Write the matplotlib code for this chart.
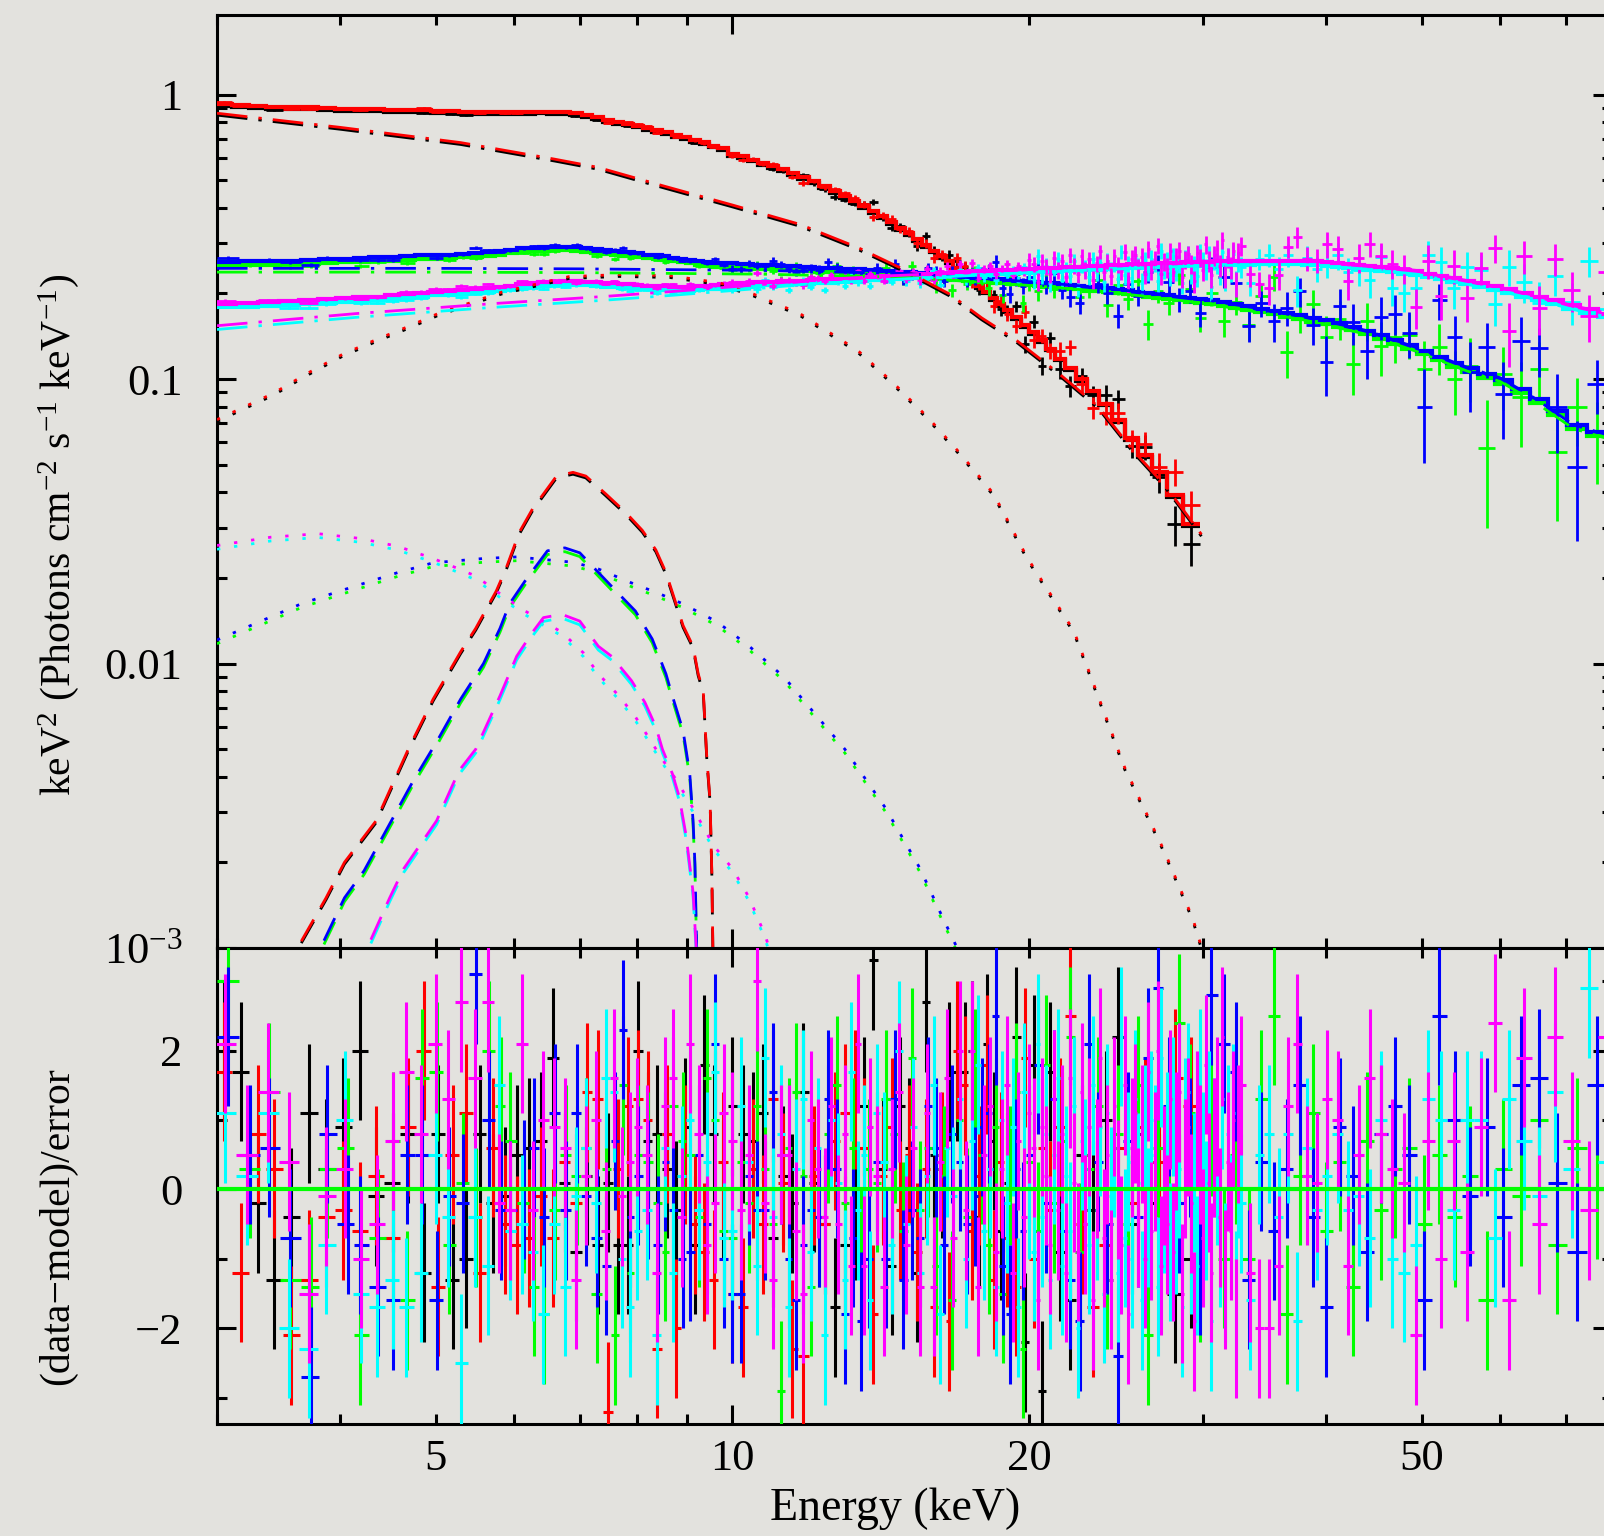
import numpy as np
import matplotlib
matplotlib.use("Agg")
import matplotlib.pyplot as plt
from matplotlib.ticker import FixedLocator, FixedFormatter, NullFormatter, FuncFormatter

plt.rcParams['font.family'] = ['Liberation Serif', 'DejaVu Serif']
plt.rcParams['mathtext.fontset'] = 'custom'
plt.rcParams['mathtext.rm'] = 'Liberation Serif'
plt.rcParams['mathtext.it'] = 'Liberation Serif:italic'
plt.rcParams['mathtext.bf'] = 'Liberation Serif:bold'

# ---------------- data: group 1/2 (black / red) ----------------
e1 = [3.05, 3.17, 3.30, 3.43, 3.57, 3.72, 3.87, 4.03, 4.19, 4.35,
      4.52, 4.69, 4.86, 5.03, 5.20, 5.37, 5.54, 5.71, 5.88, 6.05,
      6.22, 6.40, 6.58, 6.76, 6.94, 7.12, 7.30, 7.48, 7.66, 7.84,
      8.02, 8.20, 8.39, 8.58, 8.77, 8.96, 9.16, 9.36, 9.57, 9.78,
      10.0, 10.25, 10.5, 10.75, 11.0, 11.25, 11.5, 11.8, 12.1, 12.4,
      12.7, 13.0, 13.3, 13.6, 13.9, 14.2, 14.5, 14.8, 15.1, 15.4,
      15.7, 16.0, 16.3, 16.6, 16.9, 17.2, 17.5, 17.8, 18.1, 18.4,
      18.7, 19.0, 19.4, 19.8, 20.2, 20.6, 21.0, 21.5, 22.0, 22.6,
      23.2, 23.9, 24.6, 25.4, 26.2, 27.1, 28.1, 29.2]
model1 = [0.926, 0.919, 0.913, 0.907, 0.904, 0.902, 0.897, 0.891, 0.889, 0.887,
          0.885, 0.882, 0.881, 0.878, 0.874, 0.869, 0.869, 0.868, 0.868, 0.870,
          0.871, 0.872, 0.871, 0.868, 0.861, 0.848, 0.832, 0.815, 0.803, 0.791,
          0.778, 0.765, 0.752, 0.738, 0.723, 0.708, 0.694, 0.680, 0.662, 0.647,
          0.620, 0.606, 0.591, 0.575, 0.560, 0.546, 0.531, 0.514, 0.495, 0.477,
          0.459, 0.441, 0.423, 0.405, 0.390, 0.373, 0.357, 0.339, 0.325, 0.310,
          0.296, 0.283, 0.271, 0.259, 0.246, 0.235, 0.224, 0.213, 0.203, 0.193,
          0.184, 0.175, 0.165, 0.155, 0.146, 0.137, 0.128, 0.118, 0.109, 0.100,
          0.091, 0.082, 0.072, 0.062, 0.054, 0.047, 0.039, 0.031]
relerr1 = ([0.008] * 30 + [0.01] * 10 + [0.015] * 7 + [0.02] * 6 + [0.028] * 5 +
           [0.035] * 5 + [0.042] * 5 + [0.05] * 5 + [0.06] * 4 + [0.075] * 4 +
           [0.09] * 3 + [0.11, 0.12, 0.13, 0.14])
res_black = [2.0, 1.7, -0.2, -1.3, -0.4, 1.1, 0.3, 0.9, 2.0, -0.1,
             0.1, 0.8, -1.2, 0.8, -1.3, -1.0, 0.8, -0.2, -0.1, 0.5,
             0.6, 0.7, 1.9, 0.1, -0.9, 0.2, -0.8, 0.1, -0.8, -0.8,
             2.0, 0.7, 0.8, 0.3, -0.3, 0.9, -0.8, 1.8, 0.8, 0.0,
             1.2, 0.8, 0.7, 1.1, -0.7, 0.2, -0.2, 1.4, 0.1, -0.5,
             -1.7, -0.8, -0.3, 1.2, 3.3, 0.3, -1.1, 1.2, 0.6, -1.2,
             2.7, 0.5, 0.3, 1.7, 1.7, 1.7, 2.0, -0.4, 2.1, 0.7,
             -0.6, 0.1, 2.2, -2.2, 1.8, -2.9, 1.7, -0.9, -1.6, 0.5,
             -0.3, 1.0, 2.2, -0.5, 0.8, -0.2, -1.5, -1.0]
res_red = [1.7, -1.2, 0.8, 0.3, -2.1, -1.3, -0.4, -0.3, -0.6, 0.2,
           -0.7, 0.9, 2.0, -1.4, 0.5, 1.1, -1.2, 0.6, -0.5, -0.8,
           -0.7, -0.1, -0.7, 0.4, -0.2, 1.4, 1.3, -3.2, 0.3, 1.2,
           1.3, 1.0, -2.3, 0.8, -2.0, 0.5, -0.5, -0.9, -1.3, 0.4,
           -1.5, -1.7, 0.3, -0.5, 1.3, 0.1, -2.3, -2.4, 0.2, -0.5,
           0.7, 1.1, 1.3, 0.6, -1.8, 0.2, 0.9, -0.3, 0.5, -0.9,
           0.3, -1.7, 0.4, -1.9, 2.0, 1.5, -0.6, 0.2, 1.8, -1.3,
           0.4, -0.7, -1.4, 1.9, -1.0, 0.6, -0.3, 0.9, 2.5, -0.5,
           -1.7, -0.8, 0.6, -0.2, 0.9, 0.4, 1.6, 1.2]

# ---------------- data: group 3/4 (green / blue) ----------------
e2 = [3.08, 3.24, 3.39, 3.56, 3.74, 3.88, 4.07, 4.19, 4.37, 4.53,
      4.68, 4.84, 5.01, 5.16, 5.33, 5.49, 5.66, 5.82, 5.95, 6.14,
      6.29, 6.44, 6.60, 6.78, 6.95, 7.10, 7.28, 7.45, 7.60, 7.75,
      7.87, 8.02, 8.20, 8.40, 8.55, 8.70, 8.90, 9.06, 9.25, 9.42,
      9.60, 9.80,
      10.0, 10.2, 10.4, 10.6, 10.8, 11.0, 11.2, 11.4, 11.6, 11.8,
      12.0, 12.25, 12.5, 12.75, 13.0, 13.25, 13.5, 13.75, 14.0, 14.3,
      14.6, 14.9, 15.2, 15.5, 15.8, 16.1, 16.4, 16.7, 17.0, 17.3,
      17.6, 17.9, 18.2, 18.5, 18.8, 19.1, 19.4, 19.7, 20.0, 20.4,
      20.8, 21.2, 21.6, 22.0, 22.5, 23.0, 23.5, 24.0, 24.6, 25.2,
      25.8, 26.4, 27.0, 27.7, 28.4, 29.1, 29.8,
      30.6, 31.5, 32.4, 33.4, 34.4, 35.4, 36.5, 37.6, 38.8, 40.0,
      41.3, 42.6, 44.0, 45.5, 47.0, 48.6, 50.3, 52.1, 54.0, 56.0,
      58.2, 60.5, 63.0, 65.7, 68.6, 71.8, 75.3]
model2 = [0.258, 0.259, 0.260, 0.261, 0.262, 0.264, 0.265, 0.266, 0.268, 0.269,
          0.270, 0.272, 0.273, 0.274, 0.276, 0.277, 0.279, 0.282, 0.285, 0.288,
          0.290, 0.291, 0.292, 0.292, 0.291, 0.289, 0.286, 0.284, 0.282, 0.280,
          0.279, 0.277, 0.274, 0.272, 0.270, 0.267, 0.265, 0.263, 0.259, 0.257,
          0.256, 0.255,
          0.255, 0.254, 0.253, 0.252, 0.251, 0.251, 0.250, 0.250, 0.249, 0.248,
          0.247, 0.246, 0.246, 0.245, 0.244, 0.243, 0.243, 0.242, 0.241, 0.240,
          0.239, 0.238, 0.237, 0.236, 0.233, 0.232, 0.231, 0.230, 0.229, 0.228,
          0.227, 0.226, 0.226, 0.225, 0.224, 0.223, 0.222, 0.221, 0.220, 0.219,
          0.218, 0.217, 0.215, 0.214, 0.213, 0.211, 0.210, 0.209, 0.207, 0.205,
          0.203, 0.201, 0.199, 0.197, 0.195, 0.193, 0.191,
          0.189, 0.186, 0.183, 0.180, 0.177, 0.174, 0.171, 0.168, 0.164, 0.161,
          0.157, 0.153, 0.148, 0.143, 0.137, 0.132, 0.126, 0.120, 0.114, 0.109,
          0.104, 0.099, 0.092, 0.085, 0.077, 0.069, 0.065]
relerr2 = ([0.015] * 42 + [0.028] * 10 + [0.035] * 8 + [0.045] * 7 + [0.05] * 7 +
           [0.06] * 6 + [0.07] * 7 + [0.08] * 6 + [0.095] * 6 +
           [0.11] * 5 + [0.14] * 4 + [0.17] * 4 + [0.2] * 3 + [0.23] * 3 +
           [0.27] * 3 + [0.32] * 5)
res_green = [3.0, 0.3, 1.4, -1.3, -1.4, 0.3, 0.6, -2.1, -0.7, 0.7,
             -1.6, 1.6, 1.7, -0.8, 0.1, -0.4, 2.0, 1.2, 0.7, -0.2,
             -1.4, -1.8, -0.3, 0.5, 0.2, 0.6, -1.5, 0.3, -2.1, 1.5,
             -1.2, 0.5, 0.4, -0.2, -0.9, 1.2, 0.7, 0.5, -0.4, 1.6,
             1.0, -0.6,
             -0.7, 0.4, -0.2, 1.2, 0.3, -0.5, -2.9, 0.6, 1.4, 0.2,
             -1.4, -0.4, 0.8, 1.5, -0.2, 0.6, -1.0, 0.3, 0.1, 1.3,
             0.8, -0.6, 1.9, -0.3, 0.6, -1.1, 0.2, -1.6, 1.0, -0.4,
             1.6, 0.5, -0.8, 0.9, -1.5, 0.2, 1.4, -2.3, 0.4, -0.6,
             1.8, -0.2, 0.7, 2.2, -0.9, 0.3, 1.2, -1.3, 0.8, -0.5,
             1.5, -2.1, 0.6, -0.3, 2.4, 1.1, -1.2,
             0.9, -1.0, 0.5, -1.0, 1.3, 2.5, -1.8, 0.2, 1.1, -0.6,
             0.4, -1.4, 0.7, -0.3, 0.3, 0.6, -0.5, 0.5, -0.4, 0.2,
             -1.6, 0.3, -0.1, 1.0, -0.8, 0.6, 0.0]
res_blue = [2.2, 0.5, 0.6, -0.7, -2.7, 0.8, -0.5, -0.8, -1.4, -1.6,
            0.5, 0.5, -1.6, -0.1, -0.2, 3.1, 1.0, -0.3, -0.3, 0.0,
            0.6, -0.4, 1.1, -0.3, 1.1, -0.1, -0.7, -1.1, 0.7, 2.3,
            -0.4, 0.2, 0.0, -0.8, 0.4, -0.3, -1.0, -0.9, 0.5, -0.5,
            2.1, -1.0,
            -1.5, -1.5, 0.2, -0.3, -0.3, 1.4, 0.5, -1.0, -1.6, -0.8,
            -0.3, -0.4, 1.3, 0.3, -1.8, -0.7, -1.9, -1.0, 0.4, -1.0,
            1.3, -1.3, -0.3, -0.7, 1.2, 0.6, -0.8, 0.8, 0.4, -0.5,
            -0.1, 0.9, 1.1, 2.5, -1.1, -1.8, 0.3, -0.6, 0.5, 1.8,
            -0.2, 1.3, -0.6, -1.3, -1.9, 2.1, 0.4, -0.5, -2.4, 0.7,
            -0.4, 1.9, 2.9, 1.2, -0.2, 0.6, -1.1,
            2.8, 2.1, 1.7, -1.3, 0.4, -0.6, 0.3, 1.5, -0.4, -1.7,
            0.9, 0.2, -0.9, 0.8, 1.2, 0.5, -1.6, 2.5, 1.0, -0.1,
            0.9, -0.4, 1.5, 1.6, 0.1, -0.9, 1.5]

# ---------------- data: group 5/6 (cyan / magenta) ----------------
e3 = [3.06, 3.22, 3.38, 3.55, 3.72, 3.87, 4.05, 4.20, 4.36, 4.52,
      4.67, 4.83, 5.00, 5.15, 5.31, 5.48, 5.65, 5.80, 5.95, 6.12,
      6.28, 6.43, 6.59, 6.77, 6.94, 7.11, 7.27, 7.44, 7.59, 7.72,
      7.87, 8.01, 8.19, 8.38, 8.54, 8.70, 8.89, 9.05, 9.24, 9.42,
      9.60, 9.80,
      10.0, 10.2, 10.4, 10.6, 10.8, 11.0, 11.2, 11.4, 11.6, 11.8,
      12.0, 12.2, 12.4, 12.6, 12.8, 13.0, 13.2, 13.4, 13.6, 13.8,
      14.0, 14.25, 14.5, 14.75, 15.0, 15.25, 15.5, 15.75, 16.0, 16.25,
      16.5, 16.75, 17.0, 17.25, 17.5, 17.75, 18.0, 18.25, 18.5, 18.75,
      19.0, 19.25, 19.5, 19.75,
      20.0, 20.2, 20.4, 20.6, 20.8, 21.0, 21.2, 21.4, 21.6, 21.8,
      22.0, 22.2, 22.4, 22.6, 22.8, 23.0, 23.2, 23.4, 23.6, 23.8,
      24.0, 24.2, 24.4, 24.6, 24.8, 25.0, 25.2, 25.4, 25.6, 25.8,
      26.0, 26.2, 26.4, 26.6, 26.8, 27.0, 27.2, 27.4, 27.6, 27.8,
      28.0, 28.2, 28.4, 28.6, 28.8, 29.0, 29.2, 29.4, 29.6, 29.8,
      30.0, 30.2, 30.4, 30.6, 30.8, 31.0, 31.2, 31.4, 31.6, 31.8,
      32.0, 32.2, 32.4, 32.6, 32.8,
      33.5, 34.2, 35.0, 35.8, 36.6, 37.4, 38.3, 39.2, 40.1, 41.1,
      42.1, 43.2, 44.3, 45.5, 46.7, 48.0, 49.4, 50.8, 52.3, 53.9,
      55.6, 57.4, 59.3, 61.3, 63.5, 65.8, 68.3, 71.0, 73.9, 77.0]
model3 = [0.184, 0.185, 0.186, 0.188, 0.189, 0.191, 0.192, 0.194, 0.195, 0.197,
          0.199, 0.201, 0.203, 0.204, 0.206, 0.207, 0.209, 0.211, 0.213, 0.215,
          0.217, 0.219, 0.220, 0.221, 0.221, 0.220, 0.219, 0.218, 0.217, 0.216,
          0.215, 0.214, 0.213, 0.212, 0.212, 0.211, 0.211, 0.211, 0.212, 0.213,
          0.214, 0.215,
          0.216, 0.217, 0.218, 0.219, 0.220, 0.220, 0.221, 0.221, 0.222, 0.222,
          0.223, 0.224, 0.224, 0.225, 0.226, 0.226, 0.227, 0.227, 0.228, 0.229,
          0.229, 0.230, 0.231, 0.231, 0.232, 0.233, 0.234, 0.234, 0.235, 0.236,
          0.236, 0.237, 0.238, 0.238, 0.239, 0.239, 0.240, 0.240, 0.241, 0.241,
          0.242, 0.242, 0.243, 0.243,
          0.244, 0.244, 0.245, 0.245, 0.245, 0.246, 0.246, 0.246, 0.247, 0.247,
          0.247, 0.248, 0.248, 0.248, 0.249, 0.249, 0.249, 0.250, 0.250, 0.250,
          0.251, 0.251, 0.251, 0.252, 0.252, 0.252, 0.253, 0.253, 0.253, 0.253,
          0.254, 0.254, 0.254, 0.254, 0.255, 0.255, 0.255, 0.255, 0.256, 0.256,
          0.256, 0.256, 0.256, 0.257, 0.257, 0.257, 0.257, 0.257, 0.258, 0.258,
          0.258, 0.258, 0.258, 0.258, 0.259, 0.259, 0.259, 0.259, 0.259, 0.259,
          0.260, 0.260, 0.260, 0.260, 0.260,
          0.260, 0.261, 0.261, 0.261, 0.261, 0.261, 0.260, 0.259, 0.258, 0.256,
          0.254, 0.252, 0.250, 0.247, 0.245, 0.242, 0.239, 0.235, 0.231, 0.226,
          0.222, 0.217, 0.212, 0.207, 0.201, 0.195, 0.189, 0.182, 0.176, 0.170]
relerr3 = ([0.012] * 42 + [0.025] * 24 + [0.035] * 20 + [0.065] * 25 + [0.075] * 25 +
           [0.085] * 15 + [0.085] * 2 + [0.10] * 6 + [0.12] * 9 + [0.15] * 6 + [0.18] * 7)
res_cyan = [1.1, 0.2, 1.1, -2.0, -2.3, -0.8, 1.0, -1.5, -1.7, -1.3,
            -1.7, -1.2, 0.5, -0.4, -2.5, -0.4, -1.1, 1.5, -0.6, -0.5,
            -0.9, -1.8, -0.5, -1.4, -0.1, 0.6, -0.2, 1.6, 1.4, -1.0,
            -1.7, -0.6, -0.3, -2.1, 0.6, -1.2, 0.2, 1.0, -0.3, 0.4,
            1.7, -0.7,
            -0.6, 1.2, 0.4, -1.1, 1.9, -0.4, 0.8, -1.7, 0.3, 1.3,
            -0.9, 0.6, -2.1, 1.0, 0.1, -1.3, 1.7, -0.3, 0.5, -1.6,
            1.1, 0.4, -0.8, 2.0, -0.5, 0.9, -1.2, 0.2, 1.5, -1.8,
            0.6, -0.1, 1.3, -1.0, 0.7, 1.8, -0.6, 0.3, -1.4, 1.0,
            -0.2, 0.9, -1.7, 1.4,
            0.0, -0.9, 2.1, -0.4, 0.8, -1.3, 0.5, 1.6, -1.1, 0.2,
            -0.6, 1.2, -2.0, 0.7, 0.3, -0.8, 1.5, -0.3, 0.9, -1.5,
            1.1, -0.1, 0.6, -1.2, 2.2, -0.7, 0.4, -1.0, 1.3, 0.1,
            -1.6, 0.8, -0.4, 1.0, 0.5, -1.4, 1.9, -0.2, 0.7, -0.9,
            1.2, -0.5, 0.3, -1.7, 0.9, 1.4, -0.8, 0.1, -1.1, 1.6,
            0.4, -0.3, 1.0, -1.9, 0.6, 0.2, -0.7, 1.3, -1.2, 0.8,
            -0.5, 1.1, -1.6, 0.3, -0.2,
            -1.6, 0.5, 0.8, -0.4, 0.8, -1.9, 0.6, -0.3, 0.2, 0.8,
            -0.3, -0.1, -0.7, 1.0, -1.0, -1.2, -0.8, 1.3, 1.0, -0.3,
            1.0, 1.0, -0.7, 1.3, 0.7, -0.1, 1.4, 0.3, 2.9, 0.4]
res_magenta = [2.1, 0.5, 1.4, 0.4, -1.5, -0.1, 0.3, -1.0, -0.5, 0.7,
               1.7, 0.8, 2.1, 1.3, 2.7, 1.6, 2.7, -0.2, -0.3, 2.1,
               -0.3, 1.0, 0.9, 0.6, -1.3, 0.2, 1.0, -0.6, 1.6, -0.1,
               0.4, 0.9, 0.5, -1.2, 1.2, 1.6, -0.4, 2.1, 0.8, -0.8,
               -0.2, 1.1,
               0.7, -0.3, 0.5, 3.0, -0.2, -1.3, 0.5, 0.5, -0.6, -1.5,
               1.0, 0.3, -0.4, 1.2, -0.5, 0.8, -1.1, 2.1, -1.1, 0.9,
               0.2, -1.4, 0.3, 1.4, -0.8, 0.6, -1.4, 1.1, -1.4, 0.4,
               1.6, -0.7, 2.0, -0.3, 2.0, -1.4, 0.5, 1.2, -0.9, 0.3,
               1.5, -1.2, 0.7, -0.4,
               1.1, 0.6, -1.6, 0.9, 0.2, -0.8, 1.3, -0.3, 0.8, -1.2,
               1.6, 0.1, -0.9, 1.4, -0.5, 0.9, -1.6, 0.3, 1.9, -0.7,
               0.5, -1.3, 1.2, 0.0, -0.8, 1.5, -1.8, 0.6, 1.1, -0.4,
               0.8, -1.0, 1.7, -0.6, 0.4, 2.0, -1.1, 0.2, -0.5, 1.3,
               -0.9, 0.7, 1.4, -1.5, 0.3, 0.9, -0.2, -1.9, 1.0, 0.5,
               -0.7, 1.8, 0.1, -1.2, 0.6, 1.2, -0.4, 2.2, -1.3, 0.4,
               -0.6, 1.0, -2.0, 0.8, 1.5,
               -1.2, -2.0, -2.0, -1.1, 1.2, 2.1, 0.2, 0.1, 1.3, 1.0,
               -1.1, 0.5, 1.6, 0.8, 0.3, 0.1, -2.1, 0.7, -1.0, 0.7,
               -0.9, 0.9, 2.4, -1.6, 1.9, -0.5, 2.2, 0.7, -0.3, 2.2]

# cross-normalisation constants of the fainter member of each pair
norm_black, norm_green, norm_cyan = 0.985, 0.97, 0.97

# ---------------- model components (energy, keV^2 flux) ----------------
dd1_e = [3.0, 4.0, 5.3, 6.6, 7.3, 8.5, 10.0, 11.7, 13.4, 14.8, 16.6, 17.9, 19.4, 21.4, 23.5, 25.5, 27.5, 30.0]
dd1_v = [0.86, 0.767, 0.678, 0.593, 0.555, 0.478, 0.409, 0.35, 0.29, 0.246, 0.199, 0.164, 0.137, 0.105, 0.08, 0.056, 0.042, 0.028]
dt1_e = [3.0, 3.42, 3.71, 4.02, 4.36, 4.69, 5.03, 5.41, 5.83, 6.82, 7.67, 8.64, 9.70, 10.5, 11.7, 13.4,
         14.6, 15.8, 17.0, 18.4, 19.9, 22.2, 25.0, 27.4, 29.3, 30.2]
dt1_v = [0.072, 0.089, 0.105, 0.122, 0.138, 0.153, 0.170, 0.185, 0.202, 0.229, 0.233, 0.231, 0.218, 0.199, 0.17, 0.126,
         0.096, 0.073, 0.055, 0.0395, 0.0236, 0.013, 0.0043, 0.0022, 0.00127, 0.0009]
da1_e = [3.5, 3.62, 3.87, 4.04, 4.35, 4.69, 4.97, 5.30, 5.49, 5.76, 5.89, 6.08, 6.27, 6.63, 6.89, 7.10, 7.43,
         7.79, 8.10, 8.36, 8.56, 8.91, 9.12, 9.23, 9.34, 9.42, 9.49, 9.53, 9.56]
da1_v = [0.0008, 0.001, 0.0015, 0.002, 0.0028, 0.005, 0.0075, 0.011, 0.0133, 0.018, 0.0215, 0.029, 0.035, 0.0456,
         0.047, 0.0456, 0.0396, 0.034, 0.0294, 0.0251, 0.0209, 0.0136, 0.0115, 0.0092, 0.008, 0.0046, 0.0033,
         0.0018, 0.0008]

dd2_e = [3.0, 5.0, 7.0, 10.7, 15.0, 20.0, 23.6, 29.9, 37.8, 44.0, 49.4, 55.6, 60.1, 65.0, 71.3, 78.0]
dd2_v = [0.245, 0.245, 0.244, 0.241, 0.235, 0.22, 0.21, 0.191, 0.167, 0.148, 0.129, 0.11, 0.101, 0.086, 0.069, 0.063]
dt2_e = [3.0, 3.65, 4.0, 4.58, 4.97, 5.59, 6.04, 6.53, 6.89, 7.31, 7.90, 8.43, 8.91, 9.65, 10.4, 11.3, 11.7,
         13.0, 14.3, 15.5, 16.3, 16.9, 17.3]
dt2_v = [0.0121, 0.0162, 0.018, 0.0209, 0.0226, 0.0234, 0.0237, 0.0231, 0.0227, 0.0215, 0.0192, 0.0176, 0.0162,
         0.014, 0.0115, 0.0089, 0.0077, 0.005, 0.0031, 0.0019, 0.0013, 0.001, 0.0008]
da2_e = [3.7, 3.82, 4.04, 4.23, 4.75, 5.01, 5.30, 5.59, 5.81, 5.94, 6.16, 6.49, 6.76, 7.0, 7.2, 7.43, 7.79,
         7.97, 8.29, 8.56, 8.66, 8.91, 9.05, 9.12, 9.16, 9.18, 9.21]
da2_v = [0.0008, 0.001, 0.0015, 0.00187, 0.0039, 0.0053, 0.0075, 0.01, 0.0133, 0.0162, 0.0195, 0.0249, 0.0255,
         0.0245, 0.0221, 0.0197, 0.0166, 0.0153, 0.0122, 0.0092, 0.008, 0.0058, 0.0041, 0.0028, 0.00198,
         0.00136, 0.0008]

dd3_e = [3.0, 4.16, 5.69, 7.39, 8.67, 10.7, 12.0, 15.0, 20.0, 25.0, 30.0, 37.8, 44.0, 49.4, 55.6, 60.1, 65.0, 71.3, 78.0]
dd3_v = [0.154, 0.17, 0.184, 0.195, 0.203, 0.215, 0.223, 0.232, 0.244, 0.252, 0.258, 0.261, 0.251, 0.241, 0.222,
         0.21, 0.197, 0.181, 0.169]
dt3_e = [3.0, 3.4, 3.8, 4.2, 4.58, 4.97, 5.28, 5.49, 5.81, 6.16, 6.71, 7.06, 7.31, 7.67, 7.97, 8.22, 8.49,
         8.77, 9.12, 9.56, 10.0, 10.4, 10.8, 11.0]
dt3_v = [0.026, 0.0278, 0.0286, 0.0275, 0.0258, 0.0234, 0.0215, 0.0203, 0.0176, 0.0153, 0.0129, 0.0109, 0.0092,
         0.0077, 0.0065, 0.0055, 0.0046, 0.0039, 0.0031, 0.0023, 0.0019, 0.0015, 0.0011, 0.0009]
da3_e = [4.15, 4.26, 4.49, 4.64, 5.01, 5.28, 5.49, 5.81, 6.04, 6.27, 6.43, 6.71, 7.0, 7.31, 7.54, 7.90, 8.15,
         8.36, 8.49, 8.69, 8.83, 8.97, 9.12, 9.16, 9.22]
da3_v = [0.0008, 0.001, 0.0015, 0.0019, 0.0028, 0.0042, 0.005, 0.0077, 0.0106, 0.0129, 0.0145, 0.0149, 0.0141,
         0.0115, 0.0106, 0.0087, 0.0073, 0.006, 0.005, 0.0041, 0.0034, 0.0025, 0.00157, 0.0012, 0.0008]

# ---------------- axis text ----------------
x_major = [10]
x_minor = [3, 4, 5, 6, 7, 8, 9, 20, 30, 40, 50, 60, 70]
x_minor_labels = {5: '5', 20: '20', 50: '50'}
y1_major = [1e-3, 1e-2, 1e-1, 1.0]
y1_labels = [r'$10^{-3}$', '0.01', '0.1', '1']
y2_major = [-2, 0, 2]
y2_labels = ['\u22122', '0', '2']
y2_minor = [-3, -1, 1, 3]

BG = '#e3e2de'
C = {'black': '#000000', 'red': '#ff0000', 'green': '#00ff00',
     'blue': '#0000ff', 'cyan': '#00ffff', 'magenta': '#ff00ff'}


def edges_of(e):
    e = np.asarray(e, float)
    mid = np.sqrt(e[:-1] * e[1:])
    return np.concatenate([[e[0] ** 2 / mid[0]], mid, [e[-1] ** 2 / mid[-1]]])


fig = plt.figure(figsize=(16.04, 15.36), dpi=100)
fig.patch.set_facecolor(BG)
L, R = 217 / 1604, 1612 / 1604
ax1 = fig.add_axes([L, 1 - 948 / 1536, R - L, (948 - 15.3) / 1536])
ax2 = fig.add_axes([L, 1 - 1424 / 1536, R - L, (1424 - 948) / 1536])
for ax in (ax1, ax2):
    ax.set_facecolor(BG)

groups = [
    ('black', e1, model1, relerr1, res_black, norm_black),
    ('red', e1, model1, relerr1, res_red, 1.0),
    ('green', e2, model2, relerr2, res_green, norm_green),
    ('blue', e2, model2, relerr2, res_blue, 1.0),
    ('cyan', e3, model3, relerr3, res_cyan, norm_cyan),
    ('magenta', e3, model3, relerr3, res_magenta, 1.0),
]

for i, (name, e, m, s, r, k) in enumerate(groups):
    col = C[name]
    e = np.asarray(e, float)
    m = np.asarray(m, float) * k
    s = np.asarray(s, float)
    r = np.asarray(r, float)
    ed = edges_of(e)
    xerr = [e - ed[:-1], ed[1:] - e]
    y = m * (1 + r * s)
    ax1.errorbar(e, y, xerr=xerr, yerr=m * s, fmt='none', ecolor=col,
                 elinewidth=2.0, capsize=0, zorder=2 + 2 * i)
    ax1.stairs(m, ed, baseline=None, color=col, lw=3.0, zorder=3 + 2 * i)
    ax2.errorbar(e, r, xerr=xerr, yerr=np.ones_like(r), fmt='none', ecolor=col,
                 elinewidth=2.2, capsize=0, zorder=2 + i)

DASHDOT = (0, (11, 4, 1.2, 4))
DOTTED = (0, (1.2, 5.0))
DASHED = (0, (9, 5))
comps = [
    (('black', norm_black), ('red', 1.0), dd1_e, dd1_v, dt1_e, dt1_v, da1_e, da1_v),
    (('green', norm_green), ('blue', 1.0), dd2_e, dd2_v, dt2_e, dt2_v, da2_e, da2_v),
    (('cyan', norm_cyan), ('magenta', 1.0), dd3_e, dd3_v, dt3_e, dt3_v, da3_e, da3_v),
]
z = 20
for pairs in comps:
    g_a, g_b, dde, ddv, dte, dtv, dae, dav = pairs
    for name, k in (g_a, g_b):
        col = C[name]
        ax1.plot(dde, np.asarray(ddv) * k, color=col, lw=2.0, ls=DASHDOT, zorder=z)
        ax1.plot(dte, np.asarray(dtv) * k, color=col, lw=2.0, ls=DOTTED, zorder=z)
        ax1.plot(dae, np.asarray(dav) * k, color=col, lw=2.0, ls=DASHED, zorder=z)
        z += 1

ax2.axhline(0, color=C['green'], lw=3.0, zorder=50)

for ax in (ax1, ax2):
    ax.set_xscale('log')
    ax.set_xlim(3, 78)
    ax.xaxis.set_major_locator(FixedLocator(x_major))
    ax.xaxis.set_minor_locator(FixedLocator(x_minor))
    for sp in ax.spines.values():
        sp.set_linewidth(2.2)
    ax.tick_params(which='both', direction='in', top=True, right=True, width=2.2, color='black')
    ax.tick_params(which='major', length=14)
    ax.tick_params(which='minor', length=7)
    ax.tick_params(axis='y', which='both', pad=25, labelsize=32)
    ax.tick_params(axis='x', which='both', pad=11, labelsize=32)

ax1.set_yscale('log')
ax1.set_ylim(1e-3, 1.9)
ax1.yaxis.set_major_locator(FixedLocator(y1_major))
ax1.yaxis.set_major_formatter(FixedFormatter(y1_labels))
y1_minor = [k * 10.0 ** p for p in (-3, -2, -1, 0) for k in range(2, 10) if k * 10.0 ** p < 1.9]
ax1.yaxis.set_minor_locator(FixedLocator(y1_minor))
ax1.yaxis.set_minor_formatter(NullFormatter())
ax1.xaxis.set_major_formatter(NullFormatter())
ax1.xaxis.set_minor_formatter(NullFormatter())
ax1.tick_params(axis='x', which='both', labelbottom=False)

ax2.set_ylim(-3.38, 3.48)
ax2.yaxis.set_major_locator(FixedLocator(y2_major))
ax2.yaxis.set_major_formatter(FixedFormatter(y2_labels))
ax2.yaxis.set_minor_locator(FixedLocator(y2_minor))
ax2.yaxis.set_minor_formatter(NullFormatter())
ax2.xaxis.set_major_formatter(FixedFormatter(['10']))
ax2.xaxis.set_minor_formatter(FuncFormatter(lambda v, p: x_minor_labels.get(int(round(v)), '')))

fig.text(0.0362, 0.652, r'keV$^{2}$ (Photons cm$^{-2}$ s$^{-1}$ keV$^{-1}$)',
         rotation=90, ha='center', va='center', fontsize=30)
fig.text(0.0362, 0.2018, '(data\u2212model)/error', rotation=90, ha='center', va='center', fontsize=30)
fig.text(0.558, 0.0176, 'Energy (keV)', ha='center', va='center', fontsize=33)

fig.savefig('out.png', dpi=100, facecolor=BG)
